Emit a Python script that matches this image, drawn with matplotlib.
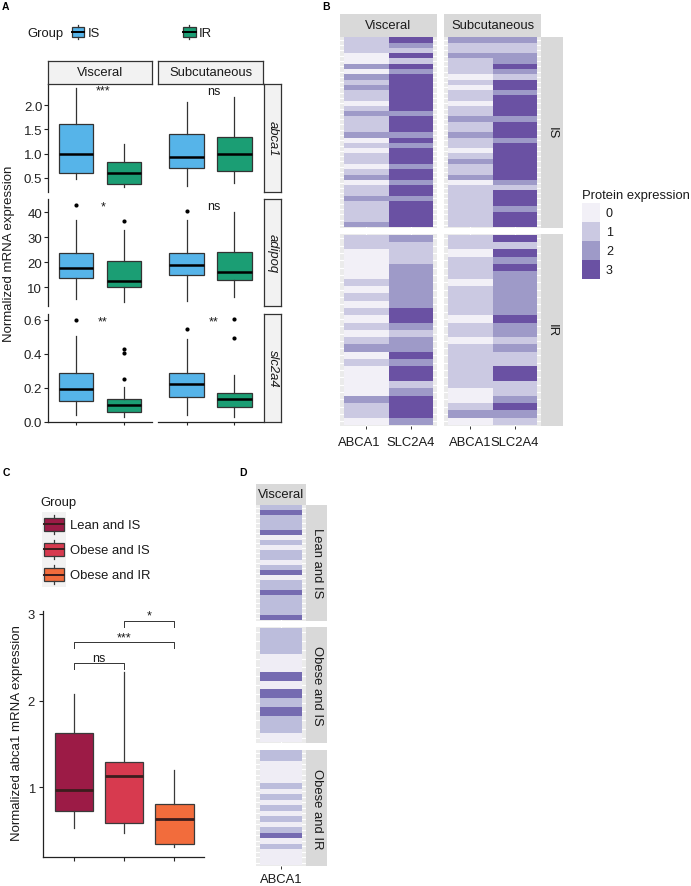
import matplotlib
matplotlib.use("Agg")
import matplotlib.pyplot as plt
from matplotlib.colors import ListedColormap, BoundaryNorm
from matplotlib.patches import Rectangle
import matplotlib.transforms as mtransforms
import numpy as np

plt.rcParams['font.family'] = ['Liberation Sans', 'DejaVu Sans']
plt.rcParams['axes.linewidth'] = 0.9

W, H = 691, 887

# ---------------- Panel A data ----------------
genes = ["abca1", "adipoq", "slc2a4"]
depots = ["Visceral", "Subcutaneous"]
groups_A = ["IS", "IR"]
colors_A = ["#56B4E9", "#1B9E74"]

# [whisker low, Q1, median, Q3, whisker high] for IS, IR
abca1_visceral = [[0.47, 0.59, 1.00, 1.61, 2.35], [0.31, 0.38, 0.60, 0.82, 1.20]]
abca1_subcut = [[0.32, 0.70, 0.93, 1.41, 2.06], [0.385, 0.645, 1.00, 1.34, 2.18]]
adipoq_visceral = [[5.3, 13.6, 17.6, 23.6, 37.0], [4.0, 10.0, 12.4, 20.4, 32.9]]
adipoq_subcut = [[4.6, 14.9, 19.0, 23.7, 37.0], [6.0, 12.9, 16.0, 24.2, 40.0]]
slc2a4_visceral = [[0.039, 0.124, 0.192, 0.290, 0.504], [0.029, 0.055, 0.098, 0.137, 0.206]]
slc2a4_subcut = [[0.039, 0.147, 0.225, 0.290, 0.490], [0.029, 0.088, 0.133, 0.172, 0.274]]

abca1_outliers = [[[], []], [[], []]]
adipoq_outliers = [[[43.0], [36.4]], [[40.4], []]]
slc2a4_outliers = [[[0.602], [0.431, 0.406, 0.255]], [[0.545], [0.604, 0.494]]]

sig_A = [["***", "ns"], ["*", "ns"], ["**", "**"]]

# ---------------- Panel B data (protein expression score per subject) ----------------
B_genes = ["ABCA1", "SLC2A4"]
B_groups = ["IS", "IR"]
visceral_IS_ABCA1 = [1,1,1,0,0,2,0,2,1,2,1,1,0,1,2,1,1,1,2,0,1,0,1,1,0,1,2,0,1,1,2,1,1,1,1,2]
visceral_IS_SLC2A4 = [3,2,1,3,1,3,2,3,3,3,3,3,3,3,2,3,3,3,2,3,2,3,3,3,2,3,3,2,3,3,2,3,3,3,3,3]
subcut_IS_ABCA1 = [2,1,1,2,1,1,1,0,1,0,1,1,0,1,1,2,1,1,2,1,1,0,1,2,1,1,2,0,1,1,1,1,1,1,1,1]
subcut_IS_SLC2A4 = [2,1,1,2,2,3,2,1,3,3,2,3,3,3,3,2,3,3,3,2,3,3,3,3,3,3,3,2,1,3,3,3,2,3,3,3]
visceral_IR_ABCA1 = [1,1,0,0,0,0,1,0,1,0,1,0,1,0,1,2,0,1,0,0,0,0,2,1,1,0]
visceral_IR_SLC2A4 = [2,1,1,1,2,2,2,2,2,2,3,3,2,1,2,2,3,2,3,3,1,2,3,3,3,2]
subcut_IR_ABCA1 = [1,1,0,1,1,1,0,1,1,1,1,0,1,1,0,1,1,1,1,1,1,0,0,1,2,0]
subcut_IR_SLC2A4 = [3,1,3,2,3,2,2,2,2,2,2,3,2,2,1,2,1,1,3,3,1,1,2,3,2,1]
B_levels = ["0", "1", "2", "3"]
B_colors = ["#F2F0F7", "#CBC9E2", "#9E9AC8", "#6A51A3"]

# ---------------- Panel C data ----------------
groups_C = ["Lean and IS", "Obese and IS", "Obese and IR"]
colors_C = ["#9C1B46", "#D73A4F", "#F26C3C"]
abca1_C = [[0.53, 0.72, 0.97, 1.63, 2.07],
           [0.47, 0.59, 1.13, 1.29, 2.33],
           [0.31, 0.34, 0.63, 0.80, 1.20]]
comparisons_C = [(0, 1), (0, 2), (1, 2)]
sig_C = ["ns", "***", "*"]

# ---------------- Panel D data ----------------
D_lean_IS = [1,2,1,1,1,2,0,1,0,1,1,0,1,2,0,1,1,2,1,1,1,1,2]
D_obese_IS = [1,1,1,0,0,2,0,2,1,2,1,1,0]
D_obese_IR = [1,1,0,0,0,0,1,0,1,0,1,0,1,0,1,2,0,1,0,0,0]
D_colors = ["#EFEDF5", "#BCBDDC", "#756BB1"]

# =====================================================================
fig = plt.figure(figsize=(W / 100, H / 100), dpi=100)
TXT = '#1a1a1a'


def rect(x0, y0, x1, y1):
    return [x0 / W, 1 - y1 / H, (x1 - x0) / W, (y1 - y0) / H]


def add_ax(x0, y0, x1, y1):
    return fig.add_axes(rect(x0, y0, x1, y1))


def strip(x0, y0, x1, y1, text, fc, ec=None, rot=0, style='normal', size=9.4):
    ax = add_ax(x0, y0, x1, y1)
    ax.set_xticks([])
    ax.set_yticks([])
    ax.set_facecolor(fc)
    for s in ax.spines.values():
        if ec:
            s.set_edgecolor(ec)
            s.set_linewidth(0.9)
        else:
            s.set_visible(False)
    ax.text(0.5, 0.5, text, transform=ax.transAxes, ha='center', va='center',
            rotation=rot, fontsize=size, style=style, color=TXT)
    return ax


def mkstats(s, fl):
    return dict(whislo=s[0], q1=s[1], med=s[2], q3=s[3], whishi=s[4], fliers=fl)


# ---------------- Panel A ----------------
A_stats = [[abca1_visceral, abca1_subcut], [adipoq_visceral, adipoq_subcut],
           [slc2a4_visceral, slc2a4_subcut]]
A_out = [abca1_outliers, adipoq_outliers, slc2a4_outliers]
A_rows = [(85, 193.3), (200, 307.3), (315, 423.3)]
A_cols = [(48, 152), (158, 263)]
A_ylim = [(0.20, 2.44), (2.4, 45.3), (-0.003, 0.635)]
A_ticks = [([0.5, 1.0, 1.5, 2.0], ["0.5", "1.0", "1.5", "2.0"]),
           ([10, 20, 30, 40], ["10", "20", "30", "40"]),
           ([0.0, 0.2, 0.4, 0.6], ["0.0", "0.2", "0.4", "0.6"])]
A_sig_y = [2.24, 41.2, 0.572]

for gi in range(3):
    for di in range(2):
        ax = add_ax(A_cols[di][0], A_rows[gi][0], A_cols[di][1], A_rows[gi][1])
        st = [mkstats(A_stats[gi][di][k], A_out[gi][di][k]) for k in range(2)]
        bp = ax.bxp(st, positions=[1, 2], widths=0.72, patch_artist=True, showcaps=False,
                    boxprops=dict(edgecolor='#333333', linewidth=0.9),
                    whiskerprops=dict(color='#333333', linewidth=0.9),
                    medianprops=dict(color='black', linewidth=1.8),
                    flierprops=dict(marker='o', markersize=3.0, markerfacecolor='black',
                                    markeredgecolor='none'))
        for k, b in enumerate(bp['boxes']):
            b.set_facecolor(colors_A[k])
        ax.set_xlim(0.4, 2.6)
        ax.set_ylim(*A_ylim[gi])
        ax.spines['top'].set_visible(False)
        ax.spines['right'].set_visible(False)
        ax.spines['left'].set_visible(di == 0)
        ax.spines['bottom'].set_visible(gi == 2)
        for s in ('left', 'bottom'):
            ax.spines[s].set_color('#222222')
        ax.set_xticks([1, 2], labels=['', ''])
        ax.tick_params(axis='x', length=2.4 if gi == 2 else 0, color='#222222', width=0.8)
        if di == 0:
            ax.set_yticks(A_ticks[gi][0], labels=A_ticks[gi][1])
            ax.tick_params(axis='y', length=2.8, pad=1.3, labelsize=9.5,
                           colors='#222222', width=0.8)
        else:
            ax.set_yticks([])
        ax.patch.set_alpha(0)
        ax.text(1.56, A_sig_y[gi], sig_A[gi][di], ha='center', va='baseline',
                fontsize=9, color=TXT)

for di in range(2):
    strip(A_cols[di][0], 62, A_cols[di][1], 84.5, depots[di], '#F2F2F2', '#333333')
for gi in range(3):
    strip(264, A_rows[gi][0], 281, A_rows[gi][1], genes[gi], '#F2F2F2', '#333333',
          rot=270, style='italic')

fig.text(9 / W, 1 - 254 / H, "Normalized mRNA expression", rotation=90,
         ha='center', va='center', fontsize=9.5, color=TXT)

# ---------------- Panel B ----------------
cmapB = ListedColormap(B_colors)
normB = BoundaryNorm([-0.5, 0.5, 1.5, 2.5, 3.5], 4)
B_data = {("IS", 0): (visceral_IS_ABCA1, visceral_IS_SLC2A4),
          ("IS", 1): (subcut_IS_ABCA1, subcut_IS_SLC2A4),
          ("IR", 0): (visceral_IR_ABCA1, visceral_IR_SLC2A4),
          ("IR", 1): (subcut_IR_ABCA1, subcut_IR_SLC2A4)}
B_cols = [(340, 437), (444, 541)]
B_rows = [(37.7, 229), (235, 426.7)]


def heat(ax, mat, cmap, norm, xlabels, show_x, pad=5.5):
    n, m = mat.shape
    ax.set_facecolor('#EBEBEB')
    ax.pcolormesh(np.arange(0.5, m + 1.0, 1.0), np.arange(0.5, n + 1.0, 1.0), mat,
                  cmap=cmap, norm=norm, zorder=2)
    ax.set_xlim(0.4, m + 0.6)
    ax.set_ylim(n + 0.6, 0.4)
    ax.set_yticks(np.arange(1, n + 1))
    ax.set_xticks(np.arange(1, m + 1))
    ax.grid(True, color='white', linewidth=0.8)
    ax.set_axisbelow(True)
    ax.tick_params(axis='y', length=0, labelleft=False)
    for s in ax.spines.values():
        s.set_visible(False)
    if show_x:
        ax.set_xticklabels(xlabels)
        ax.tick_params(axis='x', length=2.2, width=0.7, color='#333333', pad=pad,
                       labelsize=9.4, labelcolor=TXT)
    else:
        ax.tick_params(axis='x', length=0, labelbottom=False)


for ri, grp in enumerate(B_groups):
    for ci in range(2):
        ax = add_ax(B_cols[ci][0], B_rows[ri][0], B_cols[ci][1], B_rows[ri][1])
        a, s = B_data[(grp, ci)]
        heat(ax, np.column_stack([a, s]), cmapB, normB, B_genes, ri == 1)
        if ri == 1 and ci == 0:
            lbl = ax.get_xticklabels()[0]
            lbl.set_transform(lbl.get_transform() +
                              mtransforms.ScaledTranslation(-7 / 100, 0, fig.dpi_scale_trans))
for ci in range(2):
    strip(B_cols[ci][0], 15, B_cols[ci][1], 37.7, depots[ci], '#D9D9D9')
for ri in range(2):
    strip(541, B_rows[ri][0], 563, B_rows[ri][1], B_groups[ri], '#D9D9D9', rot=270)

# ---------------- Panel C ----------------
axC = add_ax(43.3, 611.5, 204, 858.3)
stC = [mkstats(s, []) for s in abca1_C]
bpC = axC.bxp(stC, positions=[1, 2, 3], widths=0.77, patch_artist=True, showcaps=False,
              boxprops=dict(edgecolor='#3a3a3a', linewidth=0.9),
              whiskerprops=dict(color='#3a3a3a', linewidth=0.9),
              medianprops=dict(color='#3B1D1D', linewidth=2.0))
for k, b in enumerate(bpC['boxes']):
    b.set_facecolor(colors_C[k])
axC.set_xlim(0.39, 3.59)
axC.set_ylim(0.19, 3.04)
axC.spines['top'].set_visible(False)
axC.spines['right'].set_visible(False)
for s in ('left', 'bottom'):
    axC.spines[s].set_color('#222222')
axC.set_xticks([1, 2, 3], labels=['', '', ''])
axC.tick_params(axis='x', length=3, width=0.8, color='#222222')
axC.set_yticks([1, 2, 3], labels=["1", "2", "3"])
axC.tick_params(axis='y', length=2.6, width=0.8, pad=3.4, labelsize=9.4, colors='#222222')
bracket_y = [2.434, 2.672, 2.915]
for (i, j), lab, yb in zip(comparisons_C, sig_C, bracket_y):
    x1, x2 = i + 1, j + 1
    axC.plot([x1, x1, x2, x2], [yb - 0.065, yb, yb, yb - 0.065], color='#333333', lw=0.7)
    axC.text((x1 + x2) / 2, yb + 0.028, lab, ha='center', va='baseline', fontsize=9, color=TXT)
fig.text(16.7 / W, 1 - 733.3 / H, "Normalized abca1 mRNA expression", rotation=90,
         ha='center', va='center', fontsize=9.5, color=TXT)

# ---------------- Panel D ----------------
cmapD = ListedColormap(D_colors)
normD = BoundaryNorm([-0.5, 0.5, 1.5, 2.5], 3)
D_sets = [D_lean_IS, D_obese_IS, D_obese_IR]
D_rows = [(505.5, 621.5), (628, 744), (750.7, 867)]
for k in range(3):
    ax = add_ax(256, D_rows[k][0], 306, D_rows[k][1])
    heat(ax, np.array(D_sets[k]).reshape(-1, 1), cmapD, normD, ["ABCA1"], k == 2, pad=2.6)
    strip(306, D_rows[k][0], 327, D_rows[k][1], groups_C[k], '#D9D9D9', rot=270)
strip(256, 485, 306, 505.5, "Visceral", '#D9D9D9')

# ---------------- Legends & labels (overlay in pixel units) ----------------
ov = fig.add_axes([0, 0, 1, 1])
ov.set_xlim(0, W)
ov.set_ylim(H, 0)
ov.axis('off')
ov.patch.set_alpha(0)


def key_glyph(xc, yc, w, h, wh, fc, medc, ec='#333333'):
    ov.add_patch(Rectangle((xc - w / 2, yc - h / 2), w, h, facecolor=fc, edgecolor=ec, lw=0.9))
    ov.plot([xc - w / 2, xc + w / 2], [yc, yc], color=medc, lw=1.4)
    ov.plot([xc, xc], [yc - h / 2 - wh, yc - h / 2], color=ec, lw=0.9)
    ov.plot([xc, xc], [yc + h / 2, yc + h / 2 + wh], color=ec, lw=0.9)


# A legend
ov.text(27, 34, "Group", ha='left', va='center', fontsize=9.4, color=TXT)
for k, (xk, xt) in enumerate([(78, 88), (189.5, 199)]):
    key_glyph(xk, 33, 12.5, 9.2, 2.3, colors_A[k], 'black')
    ov.text(xt, 34, groups_A[k], ha='left', va='center', fontsize=9.4, color=TXT)

# B legend
ov.text(582, 196, "Protein expression", ha='left', va='center', fontsize=9.4, color=TXT)
for k in range(4):
    y0 = 204 + k * 19
    ov.add_patch(Rectangle((582, y0), 18, 19, facecolor=B_colors[k], edgecolor='none'))
    ov.text(606, y0 + 10.5, B_levels[k], ha='left', va='center', fontsize=9.0, color=TXT)

# C legend
ov.text(40.7, 503, "Group", ha='left', va='center', fontsize=9.4, color=TXT)
ov.add_patch(Rectangle((42.5, 513), 24, 75, facecolor='#F2F2F2', edgecolor='none'))
for k, yc in enumerate([525.3, 550.3, 575.5]):
    key_glyph(54.5, yc, 20, 12.6, 3.0, colors_C[k], '#3B1D1D', ec='#3a3a3a')
    ov.text(70, yc + 1, groups_C[k], ha='left', va='center', fontsize=9.4, color=TXT)

# panel letters
for lab, x, y in [("A", 2, 2.5), ("B", 322.5, 1.5), ("C", 2.5, 468.5), ("D", 239, 468.5)]:
    ov.text(x, y, lab, ha='left', va='top', fontsize=7.5, fontweight='bold', color='black')

fig.savefig("out.png", dpi=100)
